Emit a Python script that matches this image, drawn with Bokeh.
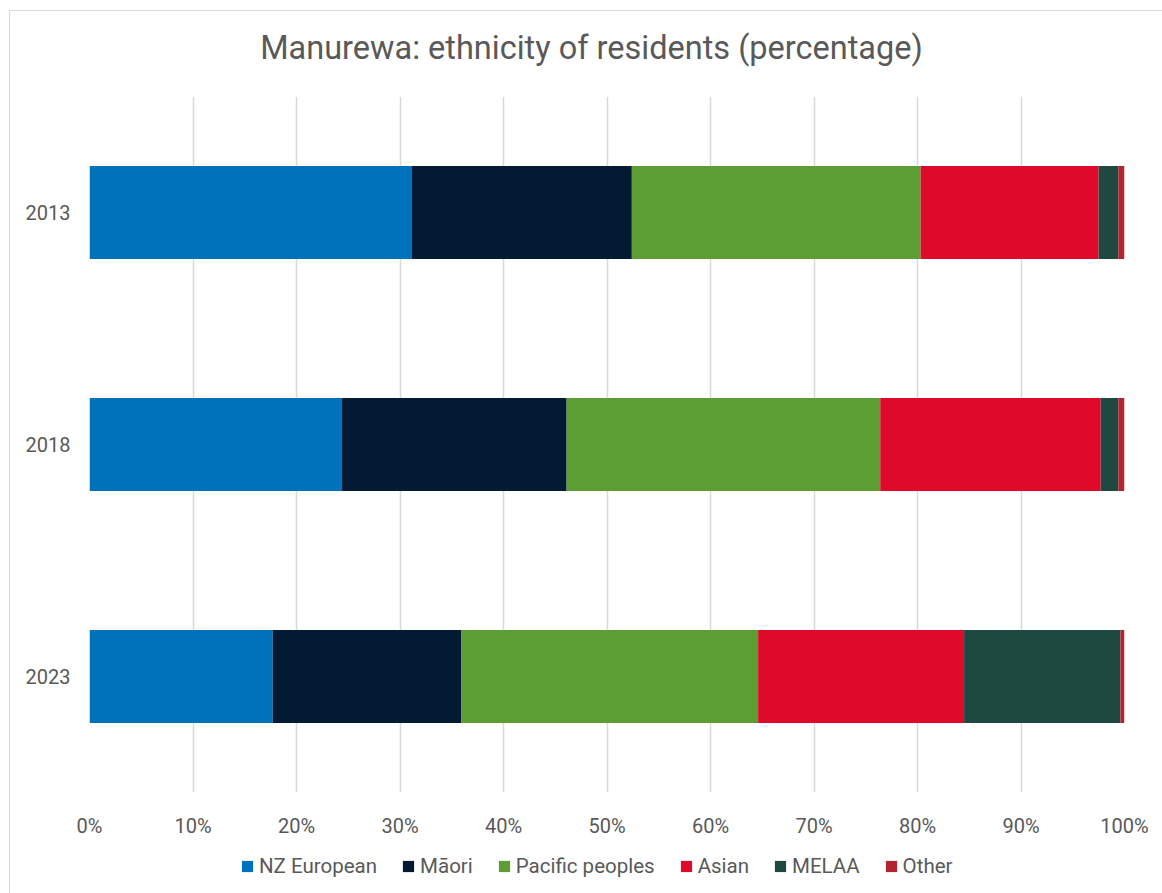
from bokeh.plotting import figure
from bokeh.layouts import column
from bokeh.models import (ColumnDataSource, FactorRange, Range1d, FixedTicker,
                          PrintfTickFormatter, Legend, Label)
from bokeh.embed import file_html
from bokeh.resources import INLINE

years = ["2013", "2018", "2023"]
series = ["NZ European", "Māori", "Pacific peoples", "Asian", "MELAA", "Other"]
nz_european = [31.1, 24.4, 17.7]
maori = [21.3, 21.7, 18.2]
pacific = [27.9, 30.3, 28.7]
asian = [17.2, 21.3, 19.9]
melaa = [1.9, 1.7, 15.1]
other = [0.6, 0.6, 0.4]
colors = ["#0072BC", "#021A32", "#5C9D34", "#DF0A2A", "#1E4941", "#B02530"]
x_ticks = [0, 10, 20, 30, 40, 50, 60, 70, 80, 90, 100]
title_text = "Manurewa: ethnicity of residents (percentage)"

keys = ["s0", "s1", "s2", "s3", "s4", "s5"]
source = ColumnDataSource(dict(year=years, s0=nz_european, s1=maori, s2=pacific,
                               s3=asian, s4=melaa, s5=other))

FONT = "Roboto"
GREY = "#595959"
FW = 1035          # frame width shared by all strips
BL, BR = 79, 38    # borders left/right
NAN = float("nan")


def blank(height):
    f = figure(frame_width=FW, frame_height=height, output_backend="svg",
               toolbar_location=None,
               x_range=Range1d(0, FW), y_range=Range1d(0, height),
               min_border_left=BL, min_border_right=BR,
               min_border_top=0, min_border_bottom=0)
    f.axis.visible = False
    f.grid.visible = False
    f.outline_line_color = None
    return f


# title strip
tf = blank(85)
tf.add_layout(Label(x=502, y=49, text=title_text, text_font=FONT,
                    text_font_size="32.5px", text_color=GREY,
                    text_align="center", text_baseline="middle"))

# main chart
p = figure(frame_width=FW, frame_height=696, output_backend="svg", toolbar_location=None,
           y_range=FactorRange(factors=["2023", "2018", "2013"]),
           x_range=Range1d(0, 100),
           min_border_left=BL, min_border_right=BR, min_border_top=0, min_border_bottom=50)

p.hbar_stack(keys, y="year", height=0.4, color=colors, line_color=None, source=source)

p.outline_line_color = None
p.xgrid.grid_line_color = "#d9d9d9"
p.xgrid.grid_line_width = 1.5
p.ygrid.grid_line_color = None

p.xaxis.ticker = FixedTicker(ticks=x_ticks)
p.xaxis.formatter = PrintfTickFormatter(format="%d%%")
for ax in (p.xaxis[0], p.yaxis[0]):
    ax.axis_line_color = None
    ax.major_tick_line_color = None
    ax.minor_tick_line_color = None
    ax.major_tick_out = 0
    ax.major_tick_in = 0
    ax.major_label_text_font = FONT
    ax.major_label_text_font_size = "20px"
    ax.major_label_text_color = GREY
p.xaxis.major_label_standoff = 21
p.yaxis.major_label_standoff = 19

# legend strip (legend proxies carry no visible geometry)
lf = blank(51)
items = []
for name, c in zip(series, colors):
    r = lf.quad(left=[NAN], right=[NAN], bottom=[NAN], top=[NAN],
                fill_color=c, line_color=None)
    items.append((name, [r]))
legend = Legend(items=items, orientation="horizontal", location=(151, 15),
                glyph_width=14, glyph_height=14, label_standoff=5, spacing=24,
                label_text_font=FONT, label_text_font_size="20.5px",
                label_text_color=GREY, border_line_color=None,
                background_fill_alpha=0, padding=0, margin=0)
lf.add_layout(legend)

layout = column(tf, p, lf, spacing=0, margin=(10, 0, 0, 9),
                styles={"border-top": "1px solid #d9d9d9", "border-left": "1px solid #d9d9d9"})

open("out.html", "w").write(file_html(layout, INLINE))
